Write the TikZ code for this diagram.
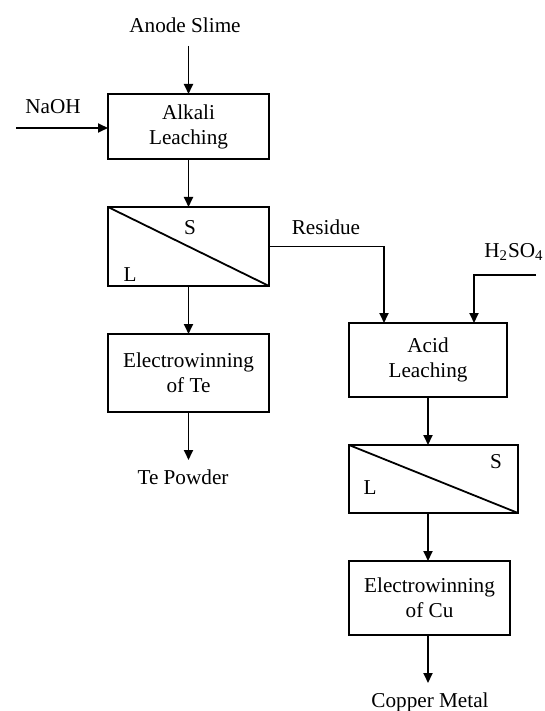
\documentclass[tikz,border=0pt]{standalone}
\usepackage{fontspec}
\setmainfont{Liberation Serif}
\usetikzlibrary{positioning,arrows.meta}

\begin{document}
\begin{tikzpicture}[
  x=0.5pt,y=-0.5pt,
  node distance=24pt and 24pt,
  every node/.style={font=\fontsize{10.6}{12.5}\selectfont},
  procbox/.style={draw,line width=0.9pt,inner sep=0pt,outer sep=0pt,
    minimum width=80.5pt,align=center},
  flowtext/.style={inner sep=0pt},
  flow/.style={line width=0.9pt,-{Triangle[length=5pt,width=4.5pt]}}
]
\useasboundingbox (0,0) rectangle (545,711);

\node[procbox,minimum height=32.5pt] (alkali) at (188.5,126.5) {Alkali\\Leaching};
\node[procbox,minimum height=39.5pt,below=of alkali] (sep1) {};
\node[procbox,minimum height=39pt,below=of sep1] (ewte) {Electrowinning\\of Te};

\node[procbox,minimum width=79pt,minimum height=37pt] (acid) at (428,360) {Acid\\Leaching};
\node[procbox,minimum width=84.5pt,minimum height=34pt,below=of acid,xshift=2.75pt] (sep2) {};
\node[procbox,minimum height=37pt,below=of sep2,xshift=-2pt] (ewcu) {Electrowinning\\of Cu};

\draw[line width=0.9pt] (sep1.north west) -- (sep1.south east);
\draw[line width=0.9pt] (sep2.north west) -- (sep2.south east);
\node[flowtext] (s1) at (190,228) {S};
\node[flowtext] (l1) at (130,275) {L};
\node[flowtext] (s2) at (496,462) {S};
\node[flowtext] (l2) at (370,488) {L};

\node[flowtext] (slime) at (185,25) {Anode Slime};
\node[flowtext] (naoh) at (53,107) {NaOH};
\node[flowtext] (residue) at (326,227) {Residue};
\node[flowtext] (h2so4) at (514,252) {H\textsubscript{2}SO\textsubscript{4}};
\node[flowtext] (tepow) at (183,477) {Te Powder};
\node[flowtext] (cumetal) at (430,702) {Copper Metal};

\coordinate[above=of alkali] (slimein);
\coordinate (naohin) at (16,128);
\coordinate (resin) at ([xshift=-22pt]acid.north);
\coordinate (h2so4in) at (536,275);
\coordinate (acidin) at ([xshift=23pt]acid.north);
\coordinate[below=of ewte] (teout);
\coordinate (cuout) at ([yshift=-24pt]ewcu.south -| acid.south);

\draw[flow] (slimein) -- (alkali);
\draw[flow] (naohin) -- (naohin -| alkali.west);
\draw[flow] (alkali) -- (sep1);
\draw[flow] (sep1) -- (ewte);
\draw[flow] (ewte) -- (teout);
\draw[flow] (sep1.east) -| (resin);
\draw[flow] (h2so4in) -| (acidin);
\draw[flow] (acid.south) -- (acid.south |- sep2.north);
\draw[flow] (acid.south |- sep2.south) -- (acid.south |- ewcu.north);
\draw[flow] (acid.south |- ewcu.south) -- (cuout);

\end{tikzpicture}
\end{document}
